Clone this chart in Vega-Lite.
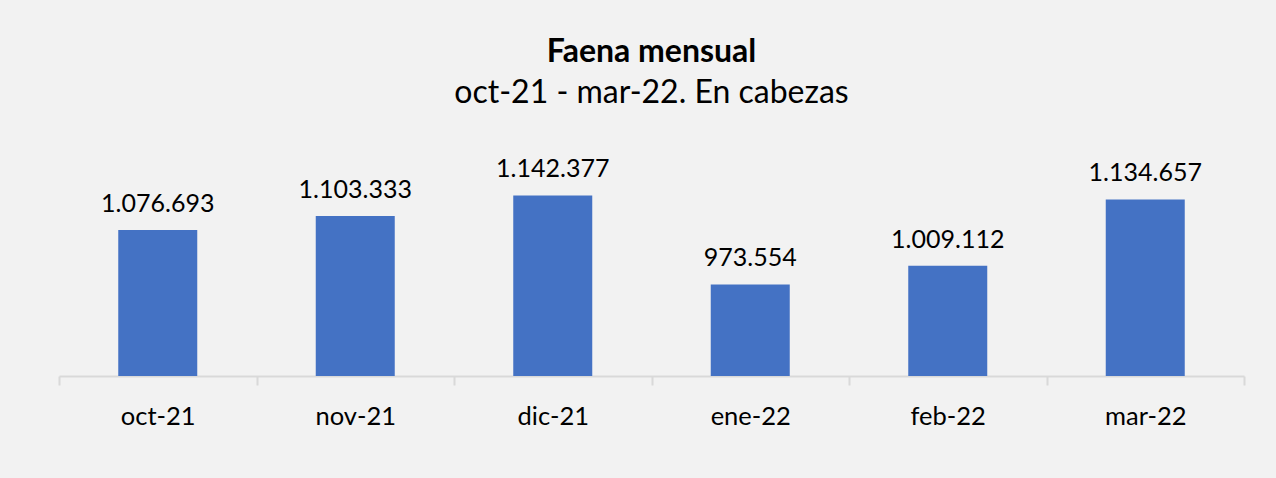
{
  "$schema": "https://vega.github.io/schema/vega-lite/v6.json",
  "autosize": {"type": "none"},
  "width": 1185,
  "height": 211,
  "padding": {"left": 59, "top": 165, "right": 32, "bottom": 102},
  "background": "#f2f2f2",
  "config": {
    "view": {"stroke": null},
    "font": "Lato",
    "locale": {"number": {"decimal": ",", "thousands": ".", "grouping": [3], "currency": ["$", ""]}}
  },
  "title": {
    "text": "Faena mensual",
    "subtitle": "oct-21 - mar-22. En cabezas",
    "anchor": "middle",
    "font": "Lato",
    "fontSize": 32,
    "fontWeight": "bold",
    "color": "#000000",
    "subtitleFont": "Lato",
    "subtitleFontSize": 32,
    "subtitleColor": "#000000",
    "subtitlePadding": 9,
    "offset": 47
  },
  "data": {
    "values": [
      {"mes": "oct-21", "faena": 1076693},
      {"mes": "nov-21", "faena": 1103333},
      {"mes": "dic-21", "faena": 1142377},
      {"mes": "ene-22", "faena": 973554},
      {"mes": "feb-22", "faena": 1009112},
      {"mes": "mar-22", "faena": 1134657}
    ]
  },
  "encoding": {
    "x": {
      "field": "mes",
      "type": "nominal",
      "sort": null,
      "scale": {"paddingInner": 0, "paddingOuter": 0},
      "axis": {
        "title": null,
        "labelAngle": 0,
        "labelFont": "Lato",
        "labelFontSize": 25.5,
        "labelColor": "#000000",
        "labelPadding": 19,
        "domainColor": "#d9d9d9",
        "domainWidth": 2,
        "tickColor": "#d9d9d9",
        "tickWidth": 2,
        "tickSize": 9,
        "tickBand": "extent"
      }
    },
    "y": {
      "field": "faena",
      "type": "quantitative",
      "scale": {"domain": [800000, 1200000], "zero": false, "nice": false},
      "axis": null
    }
  },
  "layer": [
    {"mark": {"type": "bar", "color": "#4472c4", "clip": true, "width": {"band": 0.4}}},
    {
      "mark": {"type": "text", "baseline": "alphabetic", "dy": -18, "fontSize": 25, "font": "Lato", "color": "#000000"},
      "encoding": {"text": {"field": "faena", "type": "quantitative", "format": ",d"}}
    }
  ]
}
